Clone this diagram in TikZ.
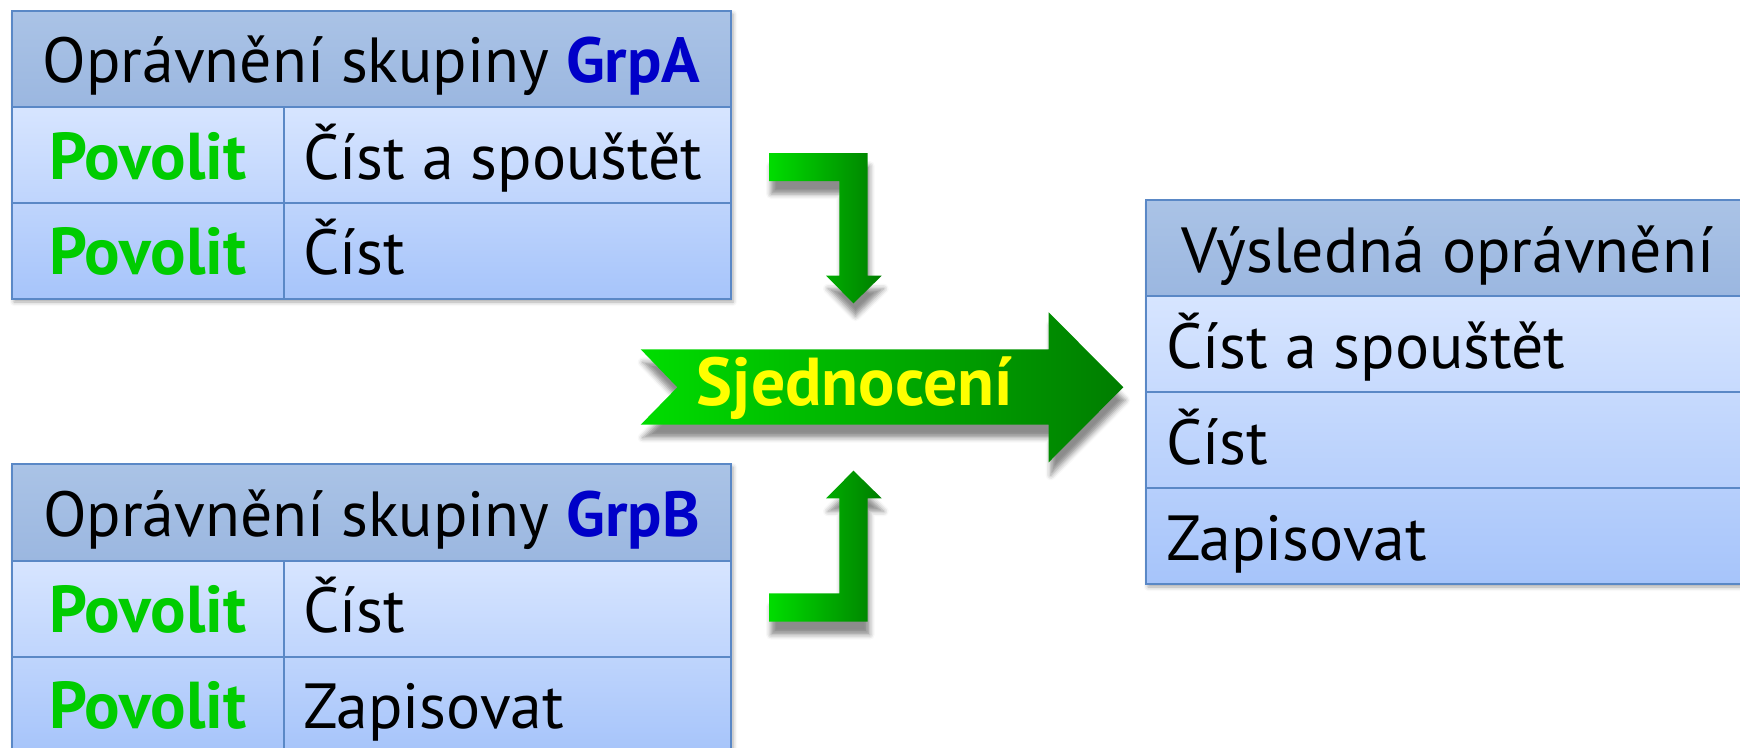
\documentclass[tikz,border=0pt]{standalone}
\usepackage{fontspec}
\setmainfont{PT Sans}
\usetikzlibrary{shadows.blur}
\definecolor{hdrtop}{HTML}{AAC3E6}
\definecolor{hdrbot}{HTML}{9BB7E0}
\definecolor{bodytop}{HTML}{D7E5FF}
\definecolor{bodybot}{HTML}{A6C4FA}
\definecolor{tblline}{HTML}{5A88C6}
\definecolor{grnL}{HTML}{00DD00}
\definecolor{grnD}{HTML}{007D00}
\definecolor{povolit}{HTML}{00CC00}
\definecolor{grpblue}{HTML}{0000C8}
\definecolor{sjyellow}{HTML}{FFFF00}
\begin{document}
\begin{tikzpicture}[x=1bp,y=-1bp,
  tblshadow/.style={blur shadow={shadow xshift=2bp,shadow yshift=-3bp,shadow blur radius=4bp,shadow opacity=35}},
  arrshadow/.style={blur shadow={shadow xshift=2bp,shadow yshift=-13bp,shadow blur radius=5bp,shadow opacity=45}},
  hdrfill/.style={top color=hdrtop,bottom color=hdrbot},
  bodyfill/.style={top color=bodytop,bottom color=bodybot},
  grid/.style={draw=tblline,line width=2bp},
  arrowfill/.style={left color=grnL,right color=grnD},
  txt/.style={inner sep=0pt,font=\fontsize{64}{70}\selectfont},
  hdrtxt/.style={txt,anchor=base},
  permtxt/.style={txt,anchor=base,text=povolit,font=\fontsize{66.5}{70}\selectfont\bfseries},
  righttxt/.style={txt,anchor=base west},
  sjtxt/.style={inner sep=0pt,anchor=base,text=sjyellow,font=\fontsize{68}{70}\selectfont\bfseries}
]
\useasboundingbox (0,0) rectangle (1740,748);
\clip (0,0) rectangle (1740,748);

% ---------- Table A ----------
\path[fill=white,tblshadow] (12,11) rectangle (731,299);
\shade[hdrfill] (12,11) rectangle (731,107);
\shade[bodyfill] (12,107) rectangle (731,299);
\draw[grid] (12,11) rectangle (731,299);
\draw[grid] (12,107) -- (731,107) (12,202.5) -- (731,202.5) (284,107) -- (284,299);
\node[hdrtxt] (ahead) at (371.5,83) {Oprávnění skupiny \textcolor{grpblue}{\bfseries GrpA}};
\node[permtxt] (ap1) at (148,179) {Povolit};
\node[righttxt] (ar1) at (303,179) {Číst a spouštět};
\node[permtxt] (ap2) at (148,274.5) {Povolit};
\node[righttxt] (ar2) at (303,274.5) {Číst};

% ---------- Table B ----------
\path[fill=white,tblshadow] (12,464) rectangle (731,753);
\shade[hdrfill] (12,464) rectangle (731,561);
\shade[bodyfill] (12,561) rectangle (731,753);
\draw[grid] (12,464) rectangle (731,753);
\draw[grid] (12,561) -- (731,561) (12,657) -- (731,657) (284,561) -- (284,753);
\node[hdrtxt] (bhead) at (371.5,536) {Oprávnění skupiny \textcolor{grpblue}{\bfseries GrpB}};
\node[permtxt] (bp1) at (148,632) {Povolit};
\node[righttxt] (br1) at (303,632) {Číst};
\node[permtxt] (bp2) at (148,728) {Povolit};
\node[righttxt] (br2) at (303,728) {Zapisovat};

% ---------- Result table ----------
\path[fill=white,tblshadow] (1146,200) rectangle (1752,584);
\shade[hdrfill] (1146,200) rectangle (1752,296);
\shade[bodyfill] (1146,296) rectangle (1752,584);
\draw[grid] (1146,200) rectangle (1752,584);
\draw[grid] (1146,296) -- (1752,296) (1146,391.5) -- (1752,391.5) (1146,488) -- (1752,488);
\node[hdrtxt] (rhead) at (1448,272) {Výsledná oprávnění};
\node[righttxt] (rr1) at (1166,368) {Číst a spouštět};
\node[righttxt] (rr2) at (1166,464) {Číst};
\node[righttxt] (rr3) at (1166,560) {Zapisovat};

% ---------- Arrows ----------
\path[arrowfill,arrshadow] (769,153) -- (867.7,153) -- (867.7,275.7) -- (881.7,275.7)
  -- (853.5,303.3) -- (826,275.7) -- (839.3,275.7) -- (839.3,181) -- (769,181) -- cycle;
\path[arrowfill,arrshadow] (769,621.7) -- (867.7,621.7) -- (867.7,498.3) -- (881.7,498.3)
  -- (853.5,470.7) -- (826,498.3) -- (839.3,498.3) -- (839.3,593.3) -- (769,593.3) -- cycle;
\path[arrowfill,arrshadow] (640.7,349.3) -- (1048.7,349.3) -- (1048.7,312.3) -- (1123.3,387.3)
  -- (1048.7,462.3) -- (1048.7,424.7) -- (640.7,424.7) -- (677.3,387.3) -- cycle;
\node[sjtxt] (sj) at (855,405) {Sjednocení};
\end{tikzpicture}
\end{document}
